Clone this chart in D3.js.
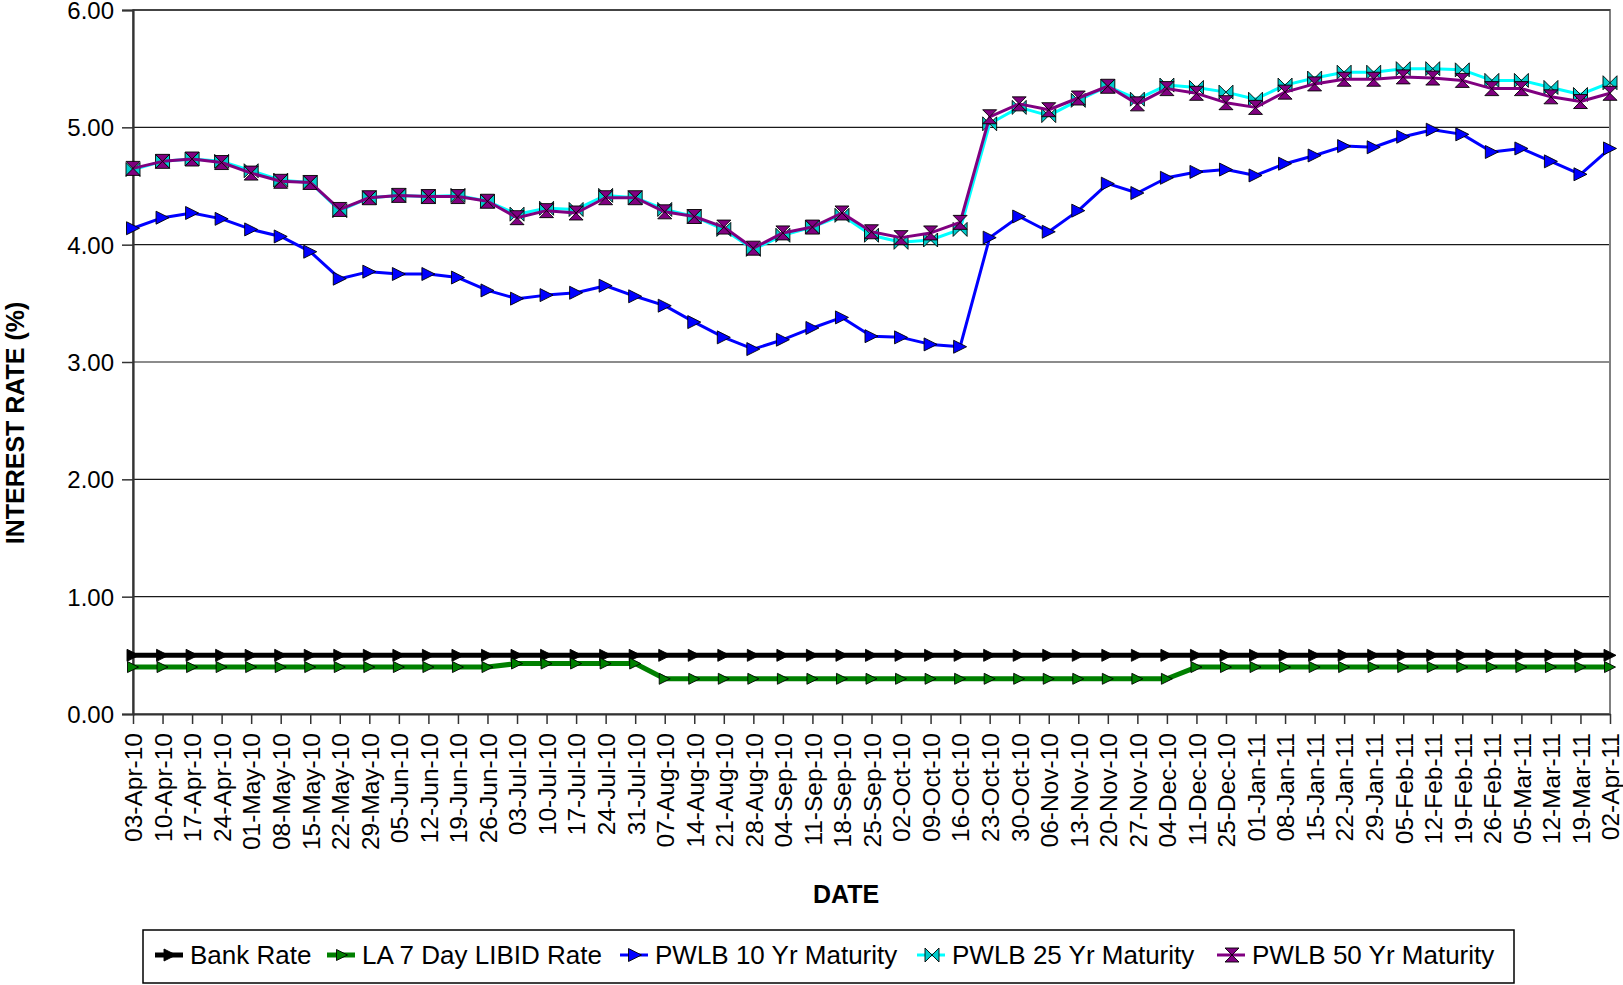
<!DOCTYPE html>
<html>
<head>
<meta charset="utf-8">
<script src="https://cdn.jsdelivr.net/npm/d3@7"></script>
<style>
  html, body { margin: 0; padding: 0; background: #fff; }
  svg { display: block; font-family: "Liberation Sans", Arial, sans-serif; }
</style>
</head>
<body>
<svg id="chart" width="1623" height="985"></svg>
<script>
// ---------------- DATA ----------------
const dates = ["03-Apr-10","10-Apr-10","17-Apr-10","24-Apr-10","01-May-10","08-May-10","15-May-10","22-May-10","29-May-10","05-Jun-10","12-Jun-10","19-Jun-10","26-Jun-10","03-Jul-10","10-Jul-10","17-Jul-10","24-Jul-10","31-Jul-10","07-Aug-10","14-Aug-10","21-Aug-10","28-Aug-10","04-Sep-10","11-Sep-10","18-Sep-10","25-Sep-10","02-Oct-10","09-Oct-10","16-Oct-10","23-Oct-10","30-Oct-10","06-Nov-10","13-Nov-10","20-Nov-10","27-Nov-10","04-Dec-10","11-Dec-10","25-Dec-10","01-Jan-11","08-Jan-11","15-Jan-11","22-Jan-11","29-Jan-11","05-Feb-11","12-Feb-11","19-Feb-11","26-Feb-11","05-Mar-11","12-Mar-11","19-Mar-11","02-Apr-11"];

const bankRate = [0.50,0.50,0.50,0.50,0.50,0.50,0.50,0.50,0.50,0.50,0.50,0.50,0.50,0.50,0.50,0.50,0.50,0.50,0.50,0.50,0.50,0.50,0.50,0.50,0.50,0.50,0.50,0.50,0.50,0.50,0.50,0.50,0.50,0.50,0.50,0.50,0.50,0.50,0.50,0.50,0.50,0.50,0.50,0.50,0.50,0.50,0.50,0.50,0.50,0.50,0.50];

const libid7Day = [0.40,0.40,0.40,0.40,0.40,0.40,0.40,0.40,0.40,0.40,0.40,0.40,0.40,0.43,0.43,0.43,0.43,0.43,0.30,0.30,0.30,0.30,0.30,0.30,0.30,0.30,0.30,0.30,0.30,0.30,0.30,0.30,0.30,0.30,0.30,0.30,0.40,0.40,0.40,0.40,0.40,0.40,0.40,0.40,0.40,0.40,0.40,0.40,0.40,0.40,0.40];

const pwlb10 = [4.14,4.23,4.27,4.22,4.13,4.07,3.94,3.71,3.77,3.75,3.75,3.72,3.61,3.54,3.57,3.59,3.65,3.56,3.48,3.34,3.21,3.11,3.19,3.29,3.38,3.22,3.21,3.15,3.13,4.06,4.24,4.11,4.29,4.52,4.44,4.57,4.62,4.64,4.59,4.69,4.76,4.84,4.83,4.92,4.98,4.94,4.79,4.82,4.71,4.60,4.82];

const pwlb25 = [4.64,4.71,4.73,4.71,4.63,4.55,4.53,4.29,4.40,4.42,4.41,4.42,4.37,4.26,4.31,4.30,4.42,4.40,4.30,4.24,4.13,3.96,4.08,4.15,4.25,4.08,4.02,4.04,4.13,5.03,5.17,5.10,5.23,5.35,5.24,5.36,5.34,5.30,5.24,5.36,5.42,5.47,5.47,5.50,5.50,5.49,5.40,5.40,5.34,5.28,5.38];

const pwlb50 = [4.65,4.71,4.73,4.70,4.61,4.54,4.53,4.30,4.40,4.42,4.41,4.41,4.37,4.23,4.29,4.27,4.40,4.40,4.28,4.24,4.15,3.97,4.10,4.15,4.27,4.11,4.06,4.10,4.19,5.09,5.20,5.15,5.25,5.35,5.20,5.33,5.29,5.21,5.17,5.30,5.37,5.41,5.41,5.43,5.42,5.40,5.33,5.33,5.26,5.22,5.29];

const yTicks = [0, 1, 2, 3, 4, 5, 6];
const seriesNames = ["Bank Rate", "LA 7 Day LIBID Rate", "PWLB 10 Yr Maturity", "PWLB 25 Yr Maturity", "PWLB 50 Yr Maturity"];
const yTitle = "INTEREST RATE (%)";
const xTitle = "DATE";

// ---------------- LAYOUT / STYLE ----------------
const plot = { left: 133, right: 1610, top: 10, bottom: 714 };
const svg = d3.select("#chart");

const x = d3.scalePoint().domain(dates).range([plot.left, plot.right]);
const y = d3.scaleLinear().domain([0, 6]).range([plot.bottom, plot.top]);

// marker shape generators (centered at 0,0)
const shapes = {
  triRight: s => `M${-s/2},${-s/2}L${s/2},0L${-s/2},${s/2}Z`,
  bowtieH: s => `M${-s/2},${-s/2}L0,0L${-s/2},${s/2}ZM${s/2},${-s/2}L0,0L${s/2},${s/2}Z`,
  hourglassV: s => `M${-s/2},${-s/2}L${s/2},${-s/2}L0,0ZM${-s/2},${s/2}L${s/2},${s/2}L0,0Z`
};

const series = [
  { name: seriesNames[0], values: bankRate,  line: "#000000", width: 5, fill: "#000000", stroke: "#000000", shape: "triRight", size: 12 },
  { name: seriesNames[1], values: libid7Day, line: "#008000", width: 5, fill: "#008000", stroke: "#000000", shape: "triRight", size: 11 },
  { name: seriesNames[2], values: pwlb10,    line: "#0000FF", width: 3, fill: "#0000FF", stroke: "#000000", shape: "triRight", size: 13 },
  { name: seriesNames[3], values: pwlb25,    line: "#00FFFF", width: 3, fill: "#00CCCC", stroke: "#000000", shape: "bowtieH", size: 14 },
  { name: seriesNames[4], values: pwlb50,    line: "#800080", width: 3, fill: "#800080", stroke: "#000000", shape: "hourglassV", size: 14 }
];

// ---------------- GRID ----------------
svg.append("g").selectAll("line")
  .data(yTicks.filter(t => t > 0 && t < 6))
  .join("line")
  .attr("x1", plot.left).attr("x2", plot.right)
  .attr("y1", d => y(d)).attr("y2", d => y(d))
  .attr("stroke", "#1a1a1a").attr("stroke-width", 1.2);

// plot border (top/right grey)
svg.append("rect")
  .attr("x", plot.left).attr("y", plot.top)
  .attr("width", plot.right - plot.left).attr("height", plot.bottom - plot.top)
  .attr("fill", "none").attr("stroke", "#808080").attr("stroke-width", 2);
svg.append("line").attr("x1", plot.left).attr("x2", plot.right).attr("y1", plot.top).attr("y2", plot.top)
  .attr("stroke", "#444").attr("stroke-width", 2);

// ---------------- AXES ----------------
const yAxis = d3.axisLeft(y).tickValues(yTicks).tickFormat(d3.format(".2f")).tickSize(11).tickPadding(8);
const gy = svg.append("g").attr("transform", `translate(${plot.left},0)`).call(yAxis);
gy.select(".domain").attr("stroke", "#333").attr("stroke-width", 2.2);
gy.selectAll(".tick line").attr("stroke", "#333").attr("stroke-width", 1.5);
gy.selectAll(".tick text").attr("font-size", 24).attr("fill", "#000")
  .attr("dy", "0.36em")
  .attr("font-family", "'Liberation Sans', Arial, sans-serif");

const xAxis = d3.axisBottom(x).tickSize(10).tickSizeOuter(0);
const gx = svg.append("g").attr("transform", `translate(0,${plot.bottom})`).call(xAxis);
gx.select(".domain").attr("stroke", "#333").attr("stroke-width", 2.2);
gx.selectAll(".tick line").attr("stroke", "#333").attr("stroke-width", 1.5);
gx.selectAll(".tick text")
  .attr("font-size", 24.5).attr("fill", "#000")
  .attr("font-family", "'Liberation Sans', Arial, sans-serif")
  .attr("text-anchor", "end")
  .attr("transform", "rotate(-90)")
  .attr("x", -19).attr("y", 0).attr("dy", "0.36em");

// ---------------- SERIES ----------------
const lineGen = d3.line().x((d, i) => x(dates[i])).y(d => y(d));
series.forEach(s => {
  const g = svg.append("g");
  g.append("path").datum(s.values)
    .attr("d", lineGen)
    .attr("fill", "none").attr("stroke", s.line).attr("stroke-width", s.width)
    .attr("stroke-linejoin", "round");
  g.selectAll("path.m").data(s.values).join("path")
    .attr("class", "m")
    .attr("transform", (d, i) => `translate(${x(dates[i])},${y(d)})`)
    .attr("d", shapes[s.shape](s.size))
    .attr("fill", s.fill).attr("stroke", s.stroke).attr("stroke-width", 0.9);
});

// ---------------- TITLES ----------------
svg.append("text")
  .attr("transform", `translate(24,${423}) rotate(-90)`)
  .attr("text-anchor", "middle")
  .attr("font-size", 25).attr("font-weight", "bold").attr("fill", "#000")
  .text(yTitle);

svg.append("text")
  .attr("x", 846).attr("y", 903)
  .attr("text-anchor", "middle")
  .attr("font-size", 25).attr("font-weight", "bold").attr("fill", "#000")
  .text(xTitle);

// ---------------- LEGEND ----------------
const legend = svg.append("g");
legend.append("rect")
  .attr("x", 143).attr("y", 930).attr("width", 1371).attr("height", 53)
  .attr("fill", "#fff").attr("stroke", "#000").attr("stroke-width", 1.5);

const legendTextX = [190, 362, 655, 952, 1252];
const legY = 955;
series.forEach((s, i) => {
  const tx = legendTextX[i];
  const cx = tx - 20;
  legend.append("line")
    .attr("x1", cx - 15).attr("x2", cx + 13).attr("y1", legY).attr("y2", legY)
    .attr("stroke", s.line).attr("stroke-width", s.width);
  legend.append("path")
    .attr("transform", `translate(${cx},${legY})`)
    .attr("d", shapes[s.shape](s.size))
    .attr("fill", s.fill).attr("stroke", s.stroke).attr("stroke-width", 0.9);
  legend.append("text")
    .attr("x", tx).attr("y", legY).attr("dy", "0.36em")
    .attr("font-size", 26).attr("fill", "#000")
    .text(s.name);
});
</script>
</body>
</html>
